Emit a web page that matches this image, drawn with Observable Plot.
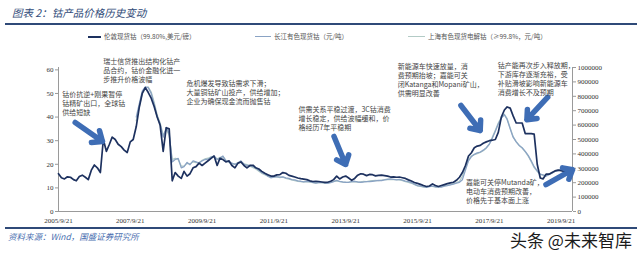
<!DOCTYPE html>
<html><head><meta charset="utf-8">
<script src="https://cdn.jsdelivr.net/npm/d3@7"></script>
<script src="https://cdn.jsdelivr.net/npm/@observablehq/plot@0.6"></script>
<style>
body{margin:0;background:#fff;width:640px;height:253px;position:relative;overflow:hidden;font-family:"Noto Sans CJK SC",sans-serif;}
.title{position:absolute;left:12px;top:6px;font-size:10.5px;font-style:italic;color:#2f4a78;white-space:nowrap;line-height:14px}
.rule{position:absolute;left:5px;width:632px;height:2px;background:#2f4a78;}
.leg{position:absolute;top:31px;font-size:6.5px;color:#555;line-height:10px;white-space:nowrap}
.sw{position:absolute;top:35.5px;height:1.6px}
#chart{position:absolute;left:0;top:44px}
.src{position:absolute;left:8px;top:230px;font-size:8.5px;font-style:italic;color:#4a6fb0;white-space:nowrap;line-height:12px}
.wm{position:absolute;left:510px;top:229px;font-size:17px;color:#1b1b1b;white-space:nowrap;line-height:22px;text-shadow:0 0 2px #fff,0 0 2px #fff}
</style></head>
<body>
<div class="title">图表 2：钴产品价格历史变动</div>
<div class="rule" style="top:23px"></div>
<div id="legend"></div>
<div id="chart"></div>
<div class="rule" style="top:227px;height:1.5px"></div>
<div class="src">资料来源：Wind，国盛证券研究所</div>
<div class="wm">头条 @未来智库</div>
<script>
// ---- data ----
const seriesNames = ["伦敦现货钴（99.80%,美元/磅）", "长江有色现货钴（元/吨）", "上海有色现货电解钴（≥99.8%，元/吨）"];
const seriesColors = ["#1d315f", "#8aa3c4", "#b3cbc6"];

// London spot cobalt, USD/lb, monthly from 2005-09-21
const londonStart = "2005-09-21";
const londonPrice = [
  16, 14.3, 13.8, 14.7, 14.5, 13.5, 13, 14.8, 15.4, 14.5,
  13.5, 17.5, 19.7, 18.5, 16.5, 30.5, 25.5, 28.5, 31.5, 30.5,
  28.5, 27.5, 26, 25, 29.5, 30.5, 36, 44, 50, 52.5,
  50.5, 48, 44.5, 40, 36.5, 25.5, 35.5, 35, 13, 16.5,
  15, 14, 17, 15, 16, 18.5, 19, 20.5, 19.5, 20.5,
  21.5, 22.5, 23.5, 19.5, 22.5, 22, 21, 21.5, 19.5, 18.5,
  20.5, 21, 19.5, 18.5, 19.5, 19.6, 18.5, 18, 17, 16.2,
  15.6, 15, 15, 15.5, 15.6, 16.5, 16.2, 15.3, 15, 14.6,
  14.2, 13.9, 13.7, 13.5, 13, 12.7, 12.8, 12.7, 12.5, 12.3,
  12.4, 12.8, 13.5, 15, 13.8, 14.6, 15, 14.2, 13.2, 14,
  15.4, 16, 15.8, 15.2, 15.7, 15.6, 15.1, 15.3, 15.4, 15.2,
  15, 14.6, 14.7, 14.5, 14.6, 14.3, 14, 13.4, 12.9, 12.3,
  11.9, 11.5, 11, 10.6, 10.8, 11.7, 11, 10.6, 11, 11.4,
  11.8, 12.1, 12.4, 13.2, 14.5, 16.5, 19.5, 23.5, 24.8, 27,
  27.7, 28, 28.9, 29.5, 30, 30.2, 30.5, 33.5, 40, 43,
  44.3, 43.8, 40.5, 37.5, 37.5, 37.5, 33, 33, 33, 32.8,
  20, 14.2, 13.8, 15.8, 15.8, 16.5, 17.2, 17.5, 17.3, 17, 17.5, 17.2
];

// Chinese spot prices, 万元/吨, monthly from 2007-11-21
const chinaStart = "2007-11-21";
const changjiangWan = [
  65.6, 74.6, 83.6, 86.6, 86.1, 82.0, 74.6, 65.6, 60.7, 51.6,
  58.2, 54.1, 34.4, 36.1, 36.9, 30.3, 31.1, 34.1, 32.5, 35.2,
  34.4, 33.6, 35.2, 36.1, 36.4, 37.7, 38.5, 36.1, 36.9, 38.5,
  35.2, 34.4, 33.6, 32.8, 33.6, 35.2, 32.8, 32.0, 32.0, 31.1,
  30.3, 28.7, 27.0, 26.2, 24.6, 23.4, 23.8, 24.3, 23.8, 24.1,
  23.3, 23.0, 22.1, 22.0, 21.3, 21.0, 20.5, 21.0, 20.7, 20.2,
  19.7, 20.0, 20.3, 19.8, 19.5, 20.0, 20.7, 21.6, 21.0, 20.5,
  20.3, 20.2, 20.7, 21.0, 20.5, 20.3, 20.5, 20.8, 20.7, 21.0,
  21.3, 21.6, 21.5, 22.0, 22.3, 22.6, 22.3, 22.0, 22.3, 21.8,
  21.1, 20.7, 20.0, 19.0, 18.0, 17.7, 17.2, 16.7, 17.2, 17.7,
  17.2, 16.9, 17.0, 17.7, 18.0, 18.5, 19.0, 19.7, 20.3, 22.1,
  28.7, 35.2, 38.0, 39.7, 40.7, 41.3, 42.6, 44.3, 46.7, 50.8,
  55.7, 60.7, 64.8, 67.2, 63.9, 57.4, 51.6, 48.4, 45.9, 44.3,
  41.8, 39.0, 35.2, 31.1, 28.2, 25.9, 25.4, 24.6, 25.6, 26.6,
  27.9, 28.4, 29.2, 30.0, 29.5, 29.8
];
const shanghaiWan = [
  63.0, 72.5, 82.0, 85.5, 86.5, 83.0, 76.0, 67.0, 61.5, 53.0,
  57.0, 53.0, 36.0, 37.0, 36.0, 31.5, 31.5, 33.5, 33.0, 34.5,
  34.0, 34.0, 35.5, 36.5, 37.0, 38.0, 38.0, 36.5, 37.5, 38.0,
  35.5, 34.0, 33.0, 33.0, 34.0, 34.5, 33.0, 32.5, 31.5, 30.5,
  29.5, 28.0, 26.5, 25.5, 24.5, 23.8, 24.0, 24.0, 23.5, 23.8,
  23.0, 22.5, 22.0, 21.5, 21.0, 20.8, 20.6, 20.8, 20.4, 20.0,
  19.8, 20.2, 20.0, 19.6, 19.8, 20.4, 21.0, 21.2, 20.8, 20.4,
  20.2, 20.4, 20.8, 20.6, 20.4, 20.6, 20.9, 20.8, 21.2, 21.4,
  21.6, 21.4, 21.8, 22.2, 22.4, 22.2, 22.1, 22.2, 21.9, 21.4,
  20.8, 20.3, 19.6, 18.6, 17.8, 17.5, 17.0, 17.0, 17.4, 17.5,
  17.0, 17.1, 17.3, 17.9, 18.2, 18.7, 19.3, 20.0, 21.0, 24.5,
  30.5, 36.0, 38.5, 39.5, 40.2, 41.0, 42.2, 44.0, 47.0, 51.5,
  56.5, 61.5, 65.5, 67.5, 64.5, 58.0, 52.0, 48.5, 46.0, 44.0,
  41.5, 38.5, 34.5, 30.5, 27.8, 25.8, 25.2, 24.8, 25.8, 26.8,
  28.0, 28.6, 29.4, 30.2, 29.7, 30.0
];

const xTickLabels = ["2005/9/21", "2007/9/21", "2009/9/21", "2011/9/21", "2013/9/21", "2015/9/21", "2017/9/21", "2019/9/21"];
const leftTicks = [0, 10, 20, 30, 40, 50, 60];
const rightTicks = [0, 100000, 200000, 300000, 400000, 500000, 600000, 700000, 800000, 900000, 1000000];
const xDomain = ["2005-09-21", "2020-01-15"];
const leftMax = 61;          // left-axis value level that lines up with the right axis top
const rightMax = 1000000;

// annotations: anchor date, value on left axis, text
const annoDates = ["2005-10-30", "2006-12-20", "2009-04-15", "2012-05-28", "2015-03-03", "2017-12-16", "2017-01-26"];
const annoValues = [51.3, 65.3, 55.9, 44.9, 63.1, 63.6, 14.0];
const annoTexts = [
  "钴价抗逆+刚果暂停\n钴精矿出口，全球钴\n供给短缺",
  "瑞士信贷推出结构化钴产\n品合约，钴价金融化进一\n步推升价格波幅",
  "危机爆发导致钴需求下滑；\n大量铜钴矿山投产，供给增加；\n企业为确保现金流而抛售钴",
  "供需关系平稳过渡，3C钴消费\n增长稳定，供给波幅缓和，价\n格经历7年平稳期",
  "新能源车快速放量，消\n费预期抬坡；嘉能可关\n闭Katanga和Mopani矿山，\n供需明显改善",
  "钴产能再次步入释放期，\n下游库存逐渐充裕，受\n补贴滑坡影响新能源车\n消费增长不及预期",
  "嘉能可关停Mutanda矿，\n电动车消费预期改善，\n价格先于基本面上涨"
];
// arrows: tail date/value -> head date/value
const arrowFromDates = ["2006-03-10", "2013-05-25", "2016-12-06", "2019-05-08", "2019-04-20"];
const arrowFromValues = [37.7, 31.8, 44.9, 48.4, 11.4];
const arrowToDates = ["2006-12-12", "2013-09-20", "2017-06-20", "2018-10-08", "2020-01-15"];
const arrowToValues = [29.7, 19.9, 34.3, 38.9, 17.7];

// ---- build ----
const parse = d3.utcParse("%Y-%m-%d");
const parseTick = d3.utcParse("%Y/%m/%d");
const toLeft = r => r * leftMax / rightMax;

const london = londonPrice.map((v, i) => ({date: d3.utcMonth.offset(parse(londonStart), i), y: v}));
const changjiang = changjiangWan.map((v, i) => ({date: d3.utcMonth.offset(parse(chinaStart), i), y: toLeft(v * 10000)}));
const shanghai = shanghaiWan.map((v, i) => ({date: d3.utcMonth.offset(parse(chinaStart), i), y: toLeft(v * 10000)}));
const annos = annoTexts.map((t, i) => ({date: parse(annoDates[i]), y: annoValues[i], text: t}));
const arrows = arrowFromDates.map((d, i) => ({x1: parse(d), y1: arrowFromValues[i], x2: parse(arrowToDates[i]), y2: arrowToValues[i]}));
const xTicks = xTickLabels.map(s => parseTick(s));
const x0 = parse(xDomain[0]), x1 = parse(xDomain[1]);

// legend
const legPos = [[88, 13, 104], [255, 16, 274], [408, 17, 428]];
const legend = document.getElementById("legend");
seriesNames.forEach((n, i) => {
  const sw = document.createElement("div");
  sw.className = "sw";
  sw.style.left = legPos[i][0] + "px";
  sw.style.width = legPos[i][1] + "px";
  sw.style.background = seriesColors[i];
  if (i === 0) sw.style.height = "2px";
  legend.appendChild(sw);
  const t = document.createElement("div");
  t.className = "leg";
  t.style.left = legPos[i][2] + "px";
  t.textContent = n;
  legend.appendChild(t);
});

const chart = Plot.plot({
  width: 640, height: 188,
  marginLeft: 58, marginRight: 68, marginTop: 23, marginBottom: 21,
  style: {fontFamily: "'Liberation Serif', serif", fontSize: "7px", color: "#333", background: "transparent", overflow: "visible"},
  x: {type: "utc", domain: [x0, x1]},
  y: {domain: [0, leftMax]},
  marks: [
    Plot.ruleY([0], {stroke: "#9a9a9a"}),
    Plot.ruleX([x0, x1], {stroke: "#9a9a9a"}),
    Plot.axisY(leftTicks, {anchor: "left", tickSize: 3, tickPadding: 2, stroke: "#9a9a9a", label: null}),
    Plot.axisY(rightTicks.map(toLeft), {anchor: "right", tickSize: 3, tickPadding: 2, stroke: "#9a9a9a", label: null,
      tickFormat: v => d3.format("d")(Math.round(v * rightMax / leftMax))}),
    Plot.axisX(xTicks, {tickSize: 0, tickPadding: 7, label: null, tickFormat: (d, i) => xTickLabels[i]}),
    Plot.line(shanghai, {x: "date", y: "y", stroke: seriesColors[2], strokeWidth: 1.3}),
    Plot.line(changjiang, {x: "date", y: "y", stroke: seriesColors[1], strokeWidth: 1.3}),
    Plot.line(london, {x: "date", y: "y", stroke: seriesColors[0], strokeWidth: 1.7}),
    Plot.arrow(arrows, {x1: "x1", y1: "y1", x2: "x2", y2: "y2", stroke: "#3e6db5", strokeWidth: 5.5, headLength: 10, headAngle: 80}),
    Plot.text(annos, {x: "date", y: "y", text: "text", textAnchor: "start", lineAnchor: "top", fontSize: 7, lineHeight: 1.3,
      fontFamily: "'Noto Sans CJK SC', sans-serif", fill: "#444"})
  ]
});
document.getElementById("chart").appendChild(chart);
</script>
</body></html>
